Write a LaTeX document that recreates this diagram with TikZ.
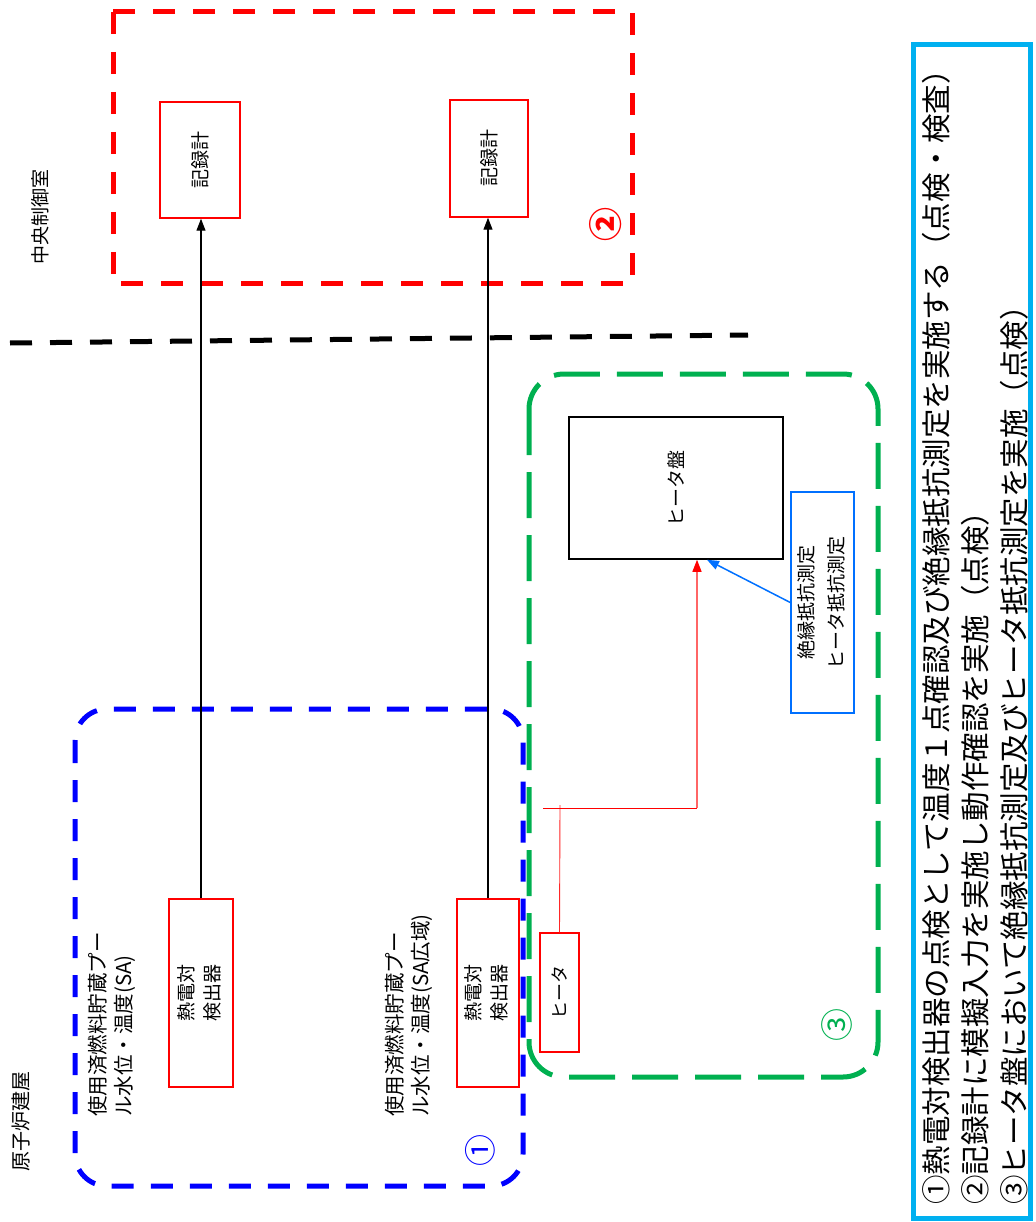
\documentclass[tikz,border=0pt]{standalone}
\usepackage{fontspec}
\setmainfont{Noto Sans CJK JP}
\usepackage{graphicx}
\usetikzlibrary{arrows.meta}
\definecolor{grn}{RGB}{0,176,80}
\definecolor{cyn}{RGB}{0,176,240}
\definecolor{blu}{RGB}{0,0,255}
\definecolor{mblu}{RGB}{0,112,255}
\newcommand\vtext[2][c]{\rotatebox{90}{\begin{tabular}{@{}#1@{}}#2\end{tabular}}}
\begin{document}
\begin{tikzpicture}[x=1pt,y=1pt,
  redbox/.style={draw=red, line width=1.5pt, inner sep=0pt, font=\fontsize{19}{26}\selectfont},
  blkbox/.style={draw=black, line width=1.5pt, inner sep=0pt, font=\fontsize{19}{26}\selectfont},
  blubox/.style={draw=mblu, line width=1.5pt, inner sep=0pt, font=\fontsize{19}{30}\selectfont},
  frame/.style={line width=5pt},
  sig/.style={line width=1.2pt, -{Triangle[length=12pt,width=9pt]}},
  lbl/.style={inner sep=0pt, font=\fontsize{20.5}{26}\selectfont},
  legend/.style={inner sep=0pt, anchor=south, font=\fontsize{29.5}{36}\selectfont}
]
\useasboundingbox (0,0) rectangle (1035,-1222);

% frames
\draw[frame, red, dash pattern=on 22pt off 18pt] (113,-12) rectangle (632,-284);
\draw[frame, black, dash pattern=on 22pt off 18pt] (10,-343) -- (748,-335);
\draw[frame, blu, rounded corners=32pt, dash pattern=on 22pt off 17pt] (75,-709) rectangle (523,-1186);
\draw[frame, grn, rounded corners=35pt, dash pattern=on 46pt off 17pt] (529,-374) rectangle (878,-1077);
\draw[frame, cyn] (913,-45) rectangle (1030,-1218);

% area labels
\node[lbl, font=\fontsize{19}{22}\selectfont] (cr) at (40,-217) {\rotatebox{90}{中央制御室}};
\node[lbl, font=\fontsize{20}{22}\selectfont] (rb) at (21,-1121) {\rotatebox{90}{原子炉建屋}};

% recorders
\node[redbox, minimum width=80pt, minimum height=116pt] (rec1) at (200,-160) {\rotatebox{90}{記録計}};
\node[redbox, minimum width=78pt, minimum height=117pt] (rec2) at (489,-158.5) {\rotatebox{90}{記録計}};

% detectors
\node[redbox, minimum width=64pt, minimum height=188pt] (det1) at (201,-993) {\vtext{熱電対\\検出器}};
\node[redbox, minimum width=62pt, minimum height=188pt] (det2) at (488,-993) {\vtext{熱電対\\検出器}};

% heater
\node[redbox, font=\fontsize{18}{26}\selectfont, minimum width=39pt, minimum height=119pt] (htr) at (559.5,-992.5) {\rotatebox{90}{ヒータ}};

% heater panel
\node[blkbox, minimum width=214pt, minimum height=142pt] (pnl) at (676,-488) {\rotatebox{90}{ヒータ盤}};

% measurement box
\node[blubox, minimum width=63pt, minimum height=221pt] (meas) at (822.5,-602.5) {\vtext{絶縁抵抗測定\\ヒータ抵抗測定}};

% labels of detectors
\node[lbl, anchor=south] (l1) at (113,-1117) {\vtext[l]{使用済燃料貯蔵プー\\ル水位・温度(SA)}};
\node[lbl, anchor=south] (l2) at (410,-1117) {\vtext[l]{使用済燃料貯蔵プー\\ル水位・温度(SA広域)}};

% circled numbers
\node[inner sep=0pt, text=red, font=\fontsize{34}{36}\selectfont\bfseries] (n2) at (606,-225) {\rotatebox{90}{②}};
\node[inner sep=0pt, text=grn, font=\fontsize{33}{36}\selectfont] (n3) at (837,-1025) {\rotatebox{90}{③}};
\node[inner sep=0pt, text=blu, font=\fontsize{32}{36}\selectfont] (n1) at (480,-1150) {\rotatebox{90}{①}};

% signal lines
\draw[sig] (det1.north) -- (det1.north |- rec1.south);
\draw[sig] (det2.north) -- (det2.north |- rec2.south);

% heater wiring
\coordinate (hj) at (560,-805);
\coordinate (hl) at (543,-808);
\coordinate (hr) at (697,-808);
\draw[red!85, line width=0.9pt] (htr.north) -- (hj);
\draw[red, line width=0.9pt] (hl) -- (hr);
\draw[red!60, line width=1.2pt, -{Triangle[length=12pt,width=9pt,color=red]}] (hr) -- (pnl.south -| hr);
\draw[mblu, line width=1.5pt, -{Triangle[length=12pt,width=9pt]}] (meas.west) -- ([xshift=31pt]pnl.south);

% legend
\node[legend] (lg1) at (936,-1205) {\rotatebox{90}{①熱電対検出器の点検として温度１点確認及び絶縁抵抗測定を実施する（点検・検査）}};
\node[legend] (lg2) at (975,-1205) {\rotatebox{90}{②記録計に模擬入力を実施し動作確認を実施（点検）}};
\node[legend] (lg3) at (1014,-1205) {\rotatebox{90}{③ヒータ盤において絶縁抵抗測定及びヒータ抵抗測定を実施（点検）}};
\end{tikzpicture}
\end{document}
